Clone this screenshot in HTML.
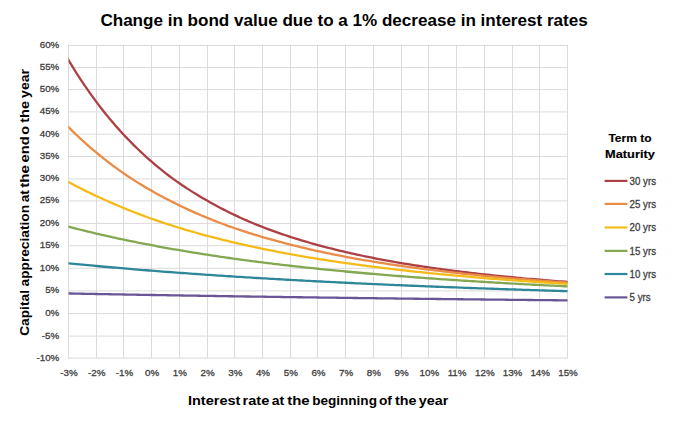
<!DOCTYPE html><html><head><meta charset="utf-8"><title>Change in bond value</title><style>html,body{margin:0;padding:0;background:#fff;}svg{display:block;}text{font-family:"Liberation Sans", Arial, sans-serif;}</style></head><body>
<svg width="690" height="427" viewBox="0 0 690 427">
<rect width="690" height="427" fill="#fff"/>
<path d="M68.0 45.40H568.0M68.0 67.50H568.0M68.0 89.60H568.0M68.0 111.90H568.0M68.0 134.20H568.0M68.0 156.50H568.0M68.0 178.90H568.0M68.0 200.90H568.0M68.0 223.40H568.0M68.0 245.70H568.0M68.0 268.30H568.0M68.0 290.90H568.0M68.0 313.60H568.0M68.0 336.10H568.0M68.0 358.10H568.0M68.5 44.9V358.6M96.5 44.9V358.6M123.5 44.9V358.6M151.5 44.9V358.6M179.5 44.9V358.6M207.5 44.9V358.6M234.5 44.9V358.6M262.5 44.9V358.6M290.5 44.9V358.6M317.5 44.9V358.6M345.5 44.9V358.6M373.5 44.9V358.6M401.5 44.9V358.6M428.5 44.9V358.6M456.5 44.9V358.6M484.5 44.9V358.6M512.5 44.9V358.6M539.5 44.9V358.6M567.5 44.9V358.6" stroke="#DBDBDB" stroke-width="1" fill="none"/>
<clipPath id="pa"><rect x="68.5" y="0" width="499" height="427"/></clipPath>
<path d="M65.73,55.41 L68.50,60.11 L71.27,64.70 L74.04,69.18 L76.82,73.56 L79.59,77.84 L82.36,82.02 L85.13,86.11 L87.90,90.11 L90.68,94.04 L93.45,97.89 L96.22,101.66 L98.99,105.33 L101.76,108.93 L104.54,112.44 L107.31,115.88 L110.08,119.24 L112.85,122.53 L115.62,125.74 L118.40,128.88 L121.17,131.96 L123.94,134.97 L126.71,137.91 L129.48,140.78 L132.26,143.60 L135.03,146.35 L137.80,149.05 L140.57,151.69 L143.34,154.27 L146.12,156.79 L148.89,159.28 L151.66,161.71 L154.43,164.08 L157.20,166.41 L159.98,168.69 L162.75,170.93 L165.52,173.11 L168.29,175.25 L171.06,177.35 L173.84,179.39 L176.61,181.37 L179.38,183.30 L182.15,185.19 L184.92,187.05 L187.70,188.87 L190.47,190.65 L193.24,192.39 L196.01,194.10 L198.78,195.78 L201.56,197.42 L204.33,199.03 L207.10,200.61 L209.87,202.19 L212.64,203.74 L215.42,205.26 L218.19,206.75 L220.96,208.21 L223.73,209.64 L226.50,211.05 L229.28,212.42 L232.05,213.77 L234.82,215.10 L237.59,216.40 L240.36,217.68 L243.14,218.93 L245.91,220.15 L248.68,221.36 L251.45,222.54 L254.22,223.70 L257.00,224.83 L259.77,225.93 L262.54,227.02 L265.31,228.09 L268.08,229.13 L270.86,230.16 L273.63,231.17 L276.40,232.16 L279.17,233.13 L281.94,234.09 L284.72,235.03 L287.49,235.95 L290.26,236.85 L293.03,237.74 L295.80,238.61 L298.58,239.47 L301.35,240.31 L304.12,241.14 L306.89,241.96 L309.66,242.75 L312.44,243.54 L315.21,244.31 L317.98,245.07 L320.75,245.82 L323.52,246.56 L326.30,247.29 L329.07,248.01 L331.84,248.71 L334.61,249.41 L337.38,250.09 L340.16,250.76 L342.93,251.42 L345.70,252.07 L348.47,252.71 L351.24,253.34 L354.02,253.95 L356.79,254.56 L359.56,255.16 L362.33,255.75 L365.10,256.32 L367.88,256.89 L370.65,257.45 L373.42,258.00 L376.19,258.55 L378.96,259.08 L381.74,259.61 L384.51,260.12 L387.28,260.63 L390.05,261.13 L392.82,261.63 L395.60,262.11 L398.37,262.59 L401.14,263.06 L403.91,263.53 L406.68,263.99 L409.46,264.44 L412.23,264.88 L415.00,265.32 L417.77,265.75 L420.54,266.17 L423.32,266.59 L426.09,267.00 L428.86,267.40 L431.63,267.80 L434.40,268.20 L437.18,268.58 L439.95,268.97 L442.72,269.34 L445.49,269.72 L448.26,270.08 L451.04,270.44 L453.81,270.80 L456.58,271.15 L459.35,271.50 L462.12,271.84 L464.90,272.17 L467.67,272.50 L470.44,272.83 L473.21,273.15 L475.98,273.47 L478.76,273.79 L481.53,274.10 L484.30,274.40 L487.07,274.70 L489.84,275.00 L492.62,275.29 L495.39,275.58 L498.16,275.87 L500.93,276.15 L503.70,276.43 L506.48,276.70 L509.25,276.97 L512.02,277.24 L514.79,277.51 L517.56,277.77 L520.34,278.02 L523.11,278.28 L525.88,278.53 L528.65,278.78 L531.42,279.02 L534.20,279.26 L536.97,279.50 L539.74,279.74 L542.51,279.97 L545.28,280.20 L548.06,280.42 L550.83,280.65 L553.60,280.87 L556.37,281.09 L559.14,281.30 L561.92,281.52 L564.69,281.73 L567.46,281.94 L570.23,282.14" stroke="#AD4045" stroke-width="2.3" fill="none" stroke-linejoin="round" clip-path="url(#pa)"/>
<path d="M65.73,124.28 L68.50,127.09 L71.27,129.85 L74.04,132.56 L76.82,135.22 L79.59,137.82 L82.36,140.38 L85.13,142.89 L87.90,145.35 L90.68,147.76 L93.45,150.13 L96.22,152.46 L98.99,154.74 L101.76,156.98 L104.54,159.18 L107.31,161.35 L110.08,163.48 L112.85,165.56 L115.62,167.61 L118.40,169.62 L121.17,171.60 L123.94,173.53 L126.71,175.44 L129.48,177.30 L132.26,179.14 L135.03,180.90 L137.80,182.64 L140.57,184.35 L143.34,186.02 L146.12,187.67 L148.89,189.29 L151.66,190.87 L154.43,192.43 L157.20,193.97 L159.98,195.47 L162.75,196.95 L165.52,198.40 L168.29,199.83 L171.06,201.24 L173.84,202.65 L176.61,204.04 L179.38,205.40 L182.15,206.74 L184.92,208.05 L187.70,209.35 L190.47,210.62 L193.24,211.87 L196.01,213.10 L198.78,214.30 L201.56,215.49 L204.33,216.66 L207.10,217.80 L209.87,218.93 L212.64,220.04 L215.42,221.13 L218.19,222.21 L220.96,223.26 L223.73,224.29 L226.50,225.31 L229.28,226.30 L232.05,227.28 L234.82,228.24 L237.59,229.19 L240.36,230.12 L243.14,231.04 L245.91,231.94 L248.68,232.83 L251.45,233.71 L254.22,234.57 L257.00,235.41 L259.77,236.25 L262.54,237.07 L265.31,237.87 L268.08,238.67 L270.86,239.45 L273.63,240.22 L276.40,240.98 L279.17,241.73 L281.94,242.46 L284.72,243.18 L287.49,243.90 L290.26,244.60 L293.03,245.29 L295.80,245.97 L298.58,246.65 L301.35,247.32 L304.12,247.98 L306.89,248.63 L309.66,249.27 L312.44,249.90 L315.21,250.52 L317.98,251.13 L320.75,251.73 L323.52,252.33 L326.30,252.91 L329.07,253.49 L331.84,254.05 L334.61,254.61 L337.38,255.17 L340.16,255.71 L342.93,256.24 L345.70,256.77 L348.47,257.29 L351.24,257.81 L354.02,258.31 L356.79,258.81 L359.56,259.30 L362.33,259.79 L365.10,260.26 L367.88,260.74 L370.65,261.20 L373.42,261.66 L376.19,262.11 L378.96,262.56 L381.74,263.00 L384.51,263.43 L387.28,263.86 L390.05,264.28 L392.82,264.69 L395.60,265.11 L398.37,265.51 L401.14,265.91 L403.91,266.30 L406.68,266.69 L409.46,267.08 L412.23,267.46 L415.00,267.83 L417.77,268.20 L420.54,268.56 L423.32,268.92 L426.09,269.28 L428.86,269.63 L431.63,269.97 L434.40,270.31 L437.18,270.65 L439.95,270.98 L442.72,271.31 L445.49,271.63 L448.26,271.95 L451.04,272.27 L453.81,272.58 L456.58,272.89 L459.35,273.19 L462.12,273.49 L464.90,273.79 L467.67,274.08 L470.44,274.37 L473.21,274.66 L475.98,274.94 L478.76,275.22 L481.53,275.49 L484.30,275.77 L487.07,276.04 L489.84,276.30 L492.62,276.56 L495.39,276.82 L498.16,277.08 L500.93,277.33 L503.70,277.58 L506.48,277.83 L509.25,278.07 L512.02,278.31 L514.79,278.55 L517.56,278.79 L520.34,279.02 L523.11,279.25 L525.88,279.48 L528.65,279.71 L531.42,279.93 L534.20,280.15 L536.97,280.37 L539.74,280.58 L542.51,280.79 L545.28,281.00 L548.06,281.21 L550.83,281.42 L553.60,281.62 L556.37,281.82 L559.14,282.02 L561.92,282.22 L564.69,282.41 L567.46,282.61 L570.23,282.80" stroke="#EA8C46" stroke-width="2.3" fill="none" stroke-linejoin="round" clip-path="url(#pa)"/>
<path d="M65.73,180.47 L68.50,181.99 L71.27,183.48 L74.04,184.95 L76.82,186.40 L79.59,187.83 L82.36,189.23 L85.13,190.62 L87.90,191.98 L90.68,193.32 L93.45,194.65 L96.22,195.95 L98.99,197.23 L101.76,198.50 L104.54,199.74 L107.31,200.97 L110.08,202.20 L112.85,203.42 L115.62,204.62 L118.40,205.80 L121.17,206.97 L123.94,208.12 L126.71,209.25 L129.48,210.36 L132.26,211.46 L135.03,212.54 L137.80,213.61 L140.57,214.66 L143.34,215.70 L146.12,216.72 L148.89,217.72 L151.66,218.72 L154.43,219.70 L157.20,220.66 L159.98,221.61 L162.75,222.55 L165.52,223.47 L168.29,224.37 L171.06,225.26 L173.84,226.14 L176.61,227.01 L179.38,227.86 L182.15,228.70 L184.92,229.53 L187.70,230.35 L190.47,231.16 L193.24,231.95 L196.01,232.74 L198.78,233.51 L201.56,234.28 L204.33,235.03 L207.10,235.77 L209.87,236.50 L212.64,237.23 L215.42,237.94 L218.19,238.65 L220.96,239.34 L223.73,240.02 L226.50,240.70 L229.28,241.37 L232.05,242.02 L234.82,242.67 L237.59,243.31 L240.36,243.95 L243.14,244.57 L245.91,245.19 L248.68,245.80 L251.45,246.40 L254.22,247.00 L257.00,247.60 L259.77,248.18 L262.54,248.76 L265.31,249.33 L268.08,249.89 L270.86,250.44 L273.63,250.99 L276.40,251.53 L279.17,252.07 L281.94,252.59 L284.72,253.11 L287.49,253.63 L290.26,254.13 L293.03,254.64 L295.80,255.13 L298.58,255.62 L301.35,256.10 L304.12,256.58 L306.89,257.05 L309.66,257.51 L312.44,257.97 L315.21,258.43 L317.98,258.87 L320.75,259.32 L323.52,259.75 L326.30,260.19 L329.07,260.61 L331.84,261.03 L334.61,261.45 L337.38,261.86 L340.16,262.27 L342.93,262.67 L345.70,263.07 L348.47,263.46 L351.24,263.84 L354.02,264.23 L356.79,264.61 L359.56,264.98 L362.33,265.35 L365.10,265.71 L367.88,266.07 L370.65,266.43 L373.42,266.78 L376.19,267.13 L378.96,267.48 L381.74,267.82 L384.51,268.15 L387.28,268.48 L390.05,268.81 L392.82,269.14 L395.60,269.46 L398.37,269.78 L401.14,270.09 L403.91,270.40 L406.68,270.71 L409.46,271.01 L412.23,271.31 L415.00,271.61 L417.77,271.90 L420.54,272.19 L423.32,272.48 L426.09,272.76 L428.86,273.05 L431.63,273.32 L434.40,273.60 L437.18,273.87 L439.95,274.14 L442.72,274.40 L445.49,274.67 L448.26,274.93 L451.04,275.18 L453.81,275.44 L456.58,275.69 L459.35,275.94 L462.12,276.19 L464.90,276.43 L467.67,276.67 L470.44,276.91 L473.21,277.15 L475.98,277.38 L478.76,277.61 L481.53,277.84 L484.30,278.07 L487.07,278.29 L489.84,278.51 L492.62,278.73 L495.39,278.95 L498.16,279.16 L500.93,279.38 L503.70,279.59 L506.48,279.80 L509.25,280.00 L512.02,280.21 L514.79,280.41 L517.56,280.61 L520.34,280.81 L523.11,281.00 L525.88,281.20 L528.65,281.39 L531.42,281.58 L534.20,281.77 L536.97,281.96 L539.74,282.14 L542.51,282.32 L545.28,282.50 L548.06,282.68 L550.83,282.86 L553.60,283.04 L556.37,283.21 L559.14,283.38 L561.92,283.56 L564.69,283.72 L567.46,283.89 L570.23,284.06" stroke="#F4BB18" stroke-width="2.3" fill="none" stroke-linejoin="round" clip-path="url(#pa)"/>
<path d="M65.73,225.91 L68.50,226.64 L71.27,227.37 L74.04,228.09 L76.82,228.80 L79.59,229.50 L82.36,230.19 L85.13,230.88 L87.90,231.55 L90.68,232.22 L93.45,232.89 L96.22,233.54 L98.99,234.19 L101.76,234.83 L104.54,235.46 L107.31,236.09 L110.08,236.71 L112.85,237.32 L115.62,237.93 L118.40,238.53 L121.17,239.12 L123.94,239.70 L126.71,240.28 L129.48,240.86 L132.26,241.42 L135.03,241.98 L137.80,242.54 L140.57,243.08 L143.34,243.63 L146.12,244.16 L148.89,244.69 L151.66,245.22 L154.43,245.74 L157.20,246.26 L159.98,246.77 L162.75,247.28 L165.52,247.78 L168.29,248.28 L171.06,248.77 L173.84,249.26 L176.61,249.74 L179.38,250.22 L182.15,250.69 L184.92,251.16 L187.70,251.62 L190.47,252.08 L193.24,252.53 L196.01,252.98 L198.78,253.42 L201.56,253.86 L204.33,254.29 L207.10,254.72 L209.87,255.15 L212.64,255.57 L215.42,255.98 L218.19,256.40 L220.96,256.80 L223.73,257.21 L226.50,257.61 L229.28,258.00 L232.05,258.39 L234.82,258.78 L237.59,259.16 L240.36,259.54 L243.14,259.92 L245.91,260.29 L248.68,260.66 L251.45,261.02 L254.22,261.38 L257.00,261.74 L259.77,262.09 L262.54,262.44 L265.31,262.79 L268.08,263.13 L270.86,263.47 L273.63,263.81 L276.40,264.14 L279.17,264.47 L281.94,264.79 L284.72,265.12 L287.49,265.44 L290.26,265.75 L293.03,266.07 L295.80,266.38 L298.58,266.69 L301.35,266.99 L304.12,267.29 L306.89,267.59 L309.66,267.89 L312.44,268.18 L315.21,268.47 L317.98,268.76 L320.75,269.04 L323.52,269.32 L326.30,269.60 L329.07,269.88 L331.84,270.15 L334.61,270.43 L337.38,270.70 L340.16,270.96 L342.93,271.23 L345.70,271.49 L348.47,271.75 L351.24,272.00 L354.02,272.26 L356.79,272.51 L359.56,272.76 L362.33,273.00 L365.10,273.25 L367.88,273.49 L370.65,273.73 L373.42,273.97 L376.19,274.21 L378.96,274.44 L381.74,274.67 L384.51,274.90 L387.28,275.13 L390.05,275.35 L392.82,275.58 L395.60,275.80 L398.37,276.02 L401.14,276.24 L403.91,276.45 L406.68,276.67 L409.46,276.88 L412.23,277.09 L415.00,277.29 L417.77,277.50 L420.54,277.70 L423.32,277.91 L426.09,278.11 L428.86,278.31 L431.63,278.50 L434.40,278.70 L437.18,278.89 L439.95,279.08 L442.72,279.28 L445.49,279.46 L448.26,279.65 L451.04,279.84 L453.81,280.02 L456.58,280.20 L459.35,280.38 L462.12,280.56 L464.90,280.74 L467.67,280.92 L470.44,281.09 L473.21,281.26 L475.98,281.44 L478.76,281.61 L481.53,281.77 L484.30,281.94 L487.07,282.11 L489.84,282.27 L492.62,282.44 L495.39,282.60 L498.16,282.76 L500.93,282.92 L503.70,283.07 L506.48,283.23 L509.25,283.39 L512.02,283.54 L514.79,283.69 L517.56,283.84 L520.34,284.00 L523.11,284.14 L525.88,284.29 L528.65,284.44 L531.42,284.58 L534.20,284.73 L536.97,284.87 L539.74,285.01 L542.51,285.15 L545.28,285.29 L548.06,285.43 L550.83,285.57 L553.60,285.71 L556.37,285.84 L559.14,285.97 L561.92,286.11 L564.69,286.24 L567.46,286.37 L570.23,286.50" stroke="#84A751" stroke-width="2.3" fill="none" stroke-linejoin="round" clip-path="url(#pa)"/>
<path d="M65.73,263.05 L68.50,263.33 L71.27,263.61 L74.04,263.88 L76.82,264.15 L79.59,264.42 L82.36,264.68 L85.13,264.95 L87.90,265.21 L90.68,265.47 L93.45,265.73 L96.22,265.98 L98.99,266.24 L101.76,266.49 L104.54,266.74 L107.31,266.99 L110.08,267.23 L112.85,267.48 L115.62,267.72 L118.40,267.96 L121.17,268.20 L123.94,268.43 L126.71,268.67 L129.48,268.90 L132.26,269.14 L135.03,269.37 L137.80,269.59 L140.57,269.82 L143.34,270.04 L146.12,270.27 L148.89,270.49 L151.66,270.71 L154.43,270.93 L157.20,271.14 L159.98,271.36 L162.75,271.57 L165.52,271.78 L168.29,271.99 L171.06,272.20 L173.84,272.41 L176.61,272.62 L179.38,272.82 L182.15,273.02 L184.92,273.22 L187.70,273.42 L190.47,273.62 L193.24,273.82 L196.01,274.01 L198.78,274.21 L201.56,274.40 L204.33,274.59 L207.10,274.78 L209.87,274.97 L212.64,275.16 L215.42,275.34 L218.19,275.53 L220.96,275.71 L223.73,275.89 L226.50,276.07 L229.28,276.25 L232.05,276.43 L234.82,276.61 L237.59,276.78 L240.36,276.96 L243.14,277.13 L245.91,277.30 L248.68,277.47 L251.45,277.64 L254.22,277.81 L257.00,277.98 L259.77,278.14 L262.54,278.31 L265.31,278.47 L268.08,278.63 L270.86,278.79 L273.63,278.95 L276.40,279.11 L279.17,279.27 L281.94,279.43 L284.72,279.58 L287.49,279.74 L290.26,279.89 L293.03,280.04 L295.80,280.20 L298.58,280.35 L301.35,280.50 L304.12,280.65 L306.89,280.79 L309.66,280.94 L312.44,281.08 L315.21,281.23 L317.98,281.37 L320.75,281.52 L323.52,281.66 L326.30,281.80 L329.07,281.94 L331.84,282.08 L334.61,282.21 L337.38,282.35 L340.16,282.49 L342.93,282.62 L345.70,282.76 L348.47,282.89 L351.24,283.02 L354.02,283.15 L356.79,283.28 L359.56,283.41 L362.33,283.54 L365.10,283.67 L367.88,283.80 L370.65,283.93 L373.42,284.05 L376.19,284.18 L378.96,284.30 L381.74,284.42 L384.51,284.55 L387.28,284.67 L390.05,284.79 L392.82,284.91 L395.60,285.03 L398.37,285.15 L401.14,285.26 L403.91,285.38 L406.68,285.50 L409.46,285.61 L412.23,285.73 L415.00,285.84 L417.77,285.96 L420.54,286.07 L423.32,286.18 L426.09,286.29 L428.86,286.40 L431.63,286.51 L434.40,286.62 L437.18,286.73 L439.95,286.84 L442.72,286.94 L445.49,287.05 L448.26,287.16 L451.04,287.26 L453.81,287.37 L456.58,287.47 L459.35,287.57 L462.12,287.67 L464.90,287.78 L467.67,287.88 L470.44,287.98 L473.21,288.08 L475.98,288.18 L478.76,288.28 L481.53,288.37 L484.30,288.47 L487.07,288.57 L489.84,288.67 L492.62,288.76 L495.39,288.86 L498.16,288.95 L500.93,289.05 L503.70,289.14 L506.48,289.23 L509.25,289.32 L512.02,289.42 L514.79,289.51 L517.56,289.60 L520.34,289.69 L523.11,289.78 L525.88,289.87 L528.65,289.96 L531.42,290.04 L534.20,290.13 L536.97,290.22 L539.74,290.30 L542.51,290.39 L545.28,290.48 L548.06,290.56 L550.83,290.65 L553.60,290.73 L556.37,290.81 L559.14,290.90 L561.92,290.98 L564.69,291.06 L567.46,291.14 L570.23,291.22" stroke="#2E8699" stroke-width="2.3" fill="none" stroke-linejoin="round" clip-path="url(#pa)"/>
<path d="M65.73,293.41 L68.50,293.47 L71.27,293.52 L74.04,293.57 L76.82,293.63 L79.59,293.68 L82.36,293.73 L85.13,293.78 L87.90,293.84 L90.68,293.89 L93.45,293.94 L96.22,293.99 L98.99,294.04 L101.76,294.09 L104.54,294.14 L107.31,294.20 L110.08,294.25 L112.85,294.30 L115.62,294.35 L118.40,294.40 L121.17,294.45 L123.94,294.49 L126.71,294.54 L129.48,294.59 L132.26,294.64 L135.03,294.69 L137.80,294.74 L140.57,294.79 L143.34,294.83 L146.12,294.88 L148.89,294.93 L151.66,294.98 L154.43,295.02 L157.20,295.07 L159.98,295.12 L162.75,295.16 L165.52,295.21 L168.29,295.26 L171.06,295.30 L173.84,295.35 L176.61,295.39 L179.38,295.44 L182.15,295.49 L184.92,295.53 L187.70,295.58 L190.47,295.62 L193.24,295.66 L196.01,295.71 L198.78,295.75 L201.56,295.80 L204.33,295.84 L207.10,295.89 L209.87,295.93 L212.64,295.97 L215.42,296.02 L218.19,296.06 L220.96,296.10 L223.73,296.14 L226.50,296.19 L229.28,296.23 L232.05,296.27 L234.82,296.31 L237.59,296.35 L240.36,296.40 L243.14,296.44 L245.91,296.48 L248.68,296.52 L251.45,296.56 L254.22,296.60 L257.00,296.64 L259.77,296.68 L262.54,296.72 L265.31,296.76 L268.08,296.80 L270.86,296.84 L273.63,296.88 L276.40,296.92 L279.17,296.96 L281.94,297.00 L284.72,297.04 L287.49,297.08 L290.26,297.12 L293.03,297.16 L295.80,297.20 L298.58,297.24 L301.35,297.27 L304.12,297.31 L306.89,297.35 L309.66,297.39 L312.44,297.43 L315.21,297.46 L317.98,297.50 L320.75,297.54 L323.52,297.58 L326.30,297.61 L329.07,297.65 L331.84,297.69 L334.61,297.72 L337.38,297.76 L340.16,297.80 L342.93,297.83 L345.70,297.87 L348.47,297.90 L351.24,297.94 L354.02,297.98 L356.79,298.01 L359.56,298.05 L362.33,298.08 L365.10,298.12 L367.88,298.15 L370.65,298.19 L373.42,298.22 L376.19,298.26 L378.96,298.29 L381.74,298.33 L384.51,298.36 L387.28,298.39 L390.05,298.43 L392.82,298.46 L395.60,298.50 L398.37,298.53 L401.14,298.56 L403.91,298.60 L406.68,298.63 L409.46,298.66 L412.23,298.70 L415.00,298.73 L417.77,298.76 L420.54,298.79 L423.32,298.83 L426.09,298.86 L428.86,298.89 L431.63,298.92 L434.40,298.96 L437.18,298.99 L439.95,299.02 L442.72,299.05 L445.49,299.08 L448.26,299.11 L451.04,299.15 L453.81,299.18 L456.58,299.21 L459.35,299.24 L462.12,299.27 L464.90,299.30 L467.67,299.33 L470.44,299.36 L473.21,299.39 L475.98,299.42 L478.76,299.45 L481.53,299.48 L484.30,299.51 L487.07,299.54 L489.84,299.57 L492.62,299.60 L495.39,299.63 L498.16,299.66 L500.93,299.69 L503.70,299.72 L506.48,299.75 L509.25,299.78 L512.02,299.81 L514.79,299.84 L517.56,299.87 L520.34,299.90 L523.11,299.93 L525.88,299.95 L528.65,299.98 L531.42,300.01 L534.20,300.04 L536.97,300.07 L539.74,300.10 L542.51,300.12 L545.28,300.15 L548.06,300.18 L550.83,300.21 L553.60,300.23 L556.37,300.26 L559.14,300.29 L561.92,300.32 L564.69,300.34 L567.46,300.37 L570.23,300.40" stroke="#6A5696" stroke-width="2.3" fill="none" stroke-linejoin="round" clip-path="url(#pa)"/>
<text x="59.3" y="47.8" font-size="9.8" fill="#404040" stroke="#404040" stroke-width="0.3" text-anchor="end">60%</text>
<text x="59.3" y="69.9" font-size="9.8" fill="#404040" stroke="#404040" stroke-width="0.3" text-anchor="end">55%</text>
<text x="59.3" y="92.0" font-size="9.8" fill="#404040" stroke="#404040" stroke-width="0.3" text-anchor="end">50%</text>
<text x="59.3" y="114.3" font-size="9.8" fill="#404040" stroke="#404040" stroke-width="0.3" text-anchor="end">45%</text>
<text x="59.3" y="136.6" font-size="9.8" fill="#404040" stroke="#404040" stroke-width="0.3" text-anchor="end">40%</text>
<text x="59.3" y="158.9" font-size="9.8" fill="#404040" stroke="#404040" stroke-width="0.3" text-anchor="end">35%</text>
<text x="59.3" y="181.3" font-size="9.8" fill="#404040" stroke="#404040" stroke-width="0.3" text-anchor="end">30%</text>
<text x="59.3" y="203.3" font-size="9.8" fill="#404040" stroke="#404040" stroke-width="0.3" text-anchor="end">25%</text>
<text x="59.3" y="225.8" font-size="9.8" fill="#404040" stroke="#404040" stroke-width="0.3" text-anchor="end">20%</text>
<text x="59.3" y="248.1" font-size="9.8" fill="#404040" stroke="#404040" stroke-width="0.3" text-anchor="end">15%</text>
<text x="59.3" y="270.7" font-size="9.8" fill="#404040" stroke="#404040" stroke-width="0.3" text-anchor="end">10%</text>
<text x="59.3" y="293.3" font-size="9.8" fill="#404040" stroke="#404040" stroke-width="0.3" text-anchor="end">5%</text>
<text x="59.3" y="316.0" font-size="9.8" fill="#404040" stroke="#404040" stroke-width="0.3" text-anchor="end">0%</text>
<text x="59.3" y="338.5" font-size="9.8" fill="#404040" stroke="#404040" stroke-width="0.3" text-anchor="end">-5%</text>
<text x="59.3" y="360.5" font-size="9.8" fill="#404040" stroke="#404040" stroke-width="0.3" text-anchor="end">-10%</text>
<text x="69.0" y="376.3" font-size="9.8" fill="#404040" stroke="#404040" stroke-width="0.3" text-anchor="middle">-3%</text>
<text x="96.7" y="376.3" font-size="9.8" fill="#404040" stroke="#404040" stroke-width="0.3" text-anchor="middle">-2%</text>
<text x="124.4" y="376.3" font-size="9.8" fill="#404040" stroke="#404040" stroke-width="0.3" text-anchor="middle">-1%</text>
<text x="152.2" y="376.3" font-size="9.8" fill="#404040" stroke="#404040" stroke-width="0.3" text-anchor="middle">0%</text>
<text x="179.9" y="376.3" font-size="9.8" fill="#404040" stroke="#404040" stroke-width="0.3" text-anchor="middle">1%</text>
<text x="207.6" y="376.3" font-size="9.8" fill="#404040" stroke="#404040" stroke-width="0.3" text-anchor="middle">2%</text>
<text x="235.3" y="376.3" font-size="9.8" fill="#404040" stroke="#404040" stroke-width="0.3" text-anchor="middle">3%</text>
<text x="263.0" y="376.3" font-size="9.8" fill="#404040" stroke="#404040" stroke-width="0.3" text-anchor="middle">4%</text>
<text x="290.8" y="376.3" font-size="9.8" fill="#404040" stroke="#404040" stroke-width="0.3" text-anchor="middle">5%</text>
<text x="318.5" y="376.3" font-size="9.8" fill="#404040" stroke="#404040" stroke-width="0.3" text-anchor="middle">6%</text>
<text x="346.2" y="376.3" font-size="9.8" fill="#404040" stroke="#404040" stroke-width="0.3" text-anchor="middle">7%</text>
<text x="373.9" y="376.3" font-size="9.8" fill="#404040" stroke="#404040" stroke-width="0.3" text-anchor="middle">8%</text>
<text x="401.6" y="376.3" font-size="9.8" fill="#404040" stroke="#404040" stroke-width="0.3" text-anchor="middle">9%</text>
<text x="429.4" y="376.3" font-size="9.8" fill="#404040" stroke="#404040" stroke-width="0.3" text-anchor="middle">10%</text>
<text x="457.1" y="376.3" font-size="9.8" fill="#404040" stroke="#404040" stroke-width="0.3" text-anchor="middle">11%</text>
<text x="484.8" y="376.3" font-size="9.8" fill="#404040" stroke="#404040" stroke-width="0.3" text-anchor="middle">12%</text>
<text x="512.5" y="376.3" font-size="9.8" fill="#404040" stroke="#404040" stroke-width="0.3" text-anchor="middle">13%</text>
<text x="540.2" y="376.3" font-size="9.8" fill="#404040" stroke="#404040" stroke-width="0.3" text-anchor="middle">14%</text>
<text x="568.0" y="376.3" font-size="9.8" fill="#404040" stroke="#404040" stroke-width="0.3" text-anchor="middle">15%</text>
<text x="100.4" y="25.6" font-size="17.4" font-weight="bold" fill="#000" textLength="487.3" lengthAdjust="spacingAndGlyphs">Change in bond value due to a 1% decrease in interest rates</text>
<text y="404.7" font-size="13.6" font-weight="bold" fill="#000"><tspan x="187.96" textLength="52.49" lengthAdjust="spacingAndGlyphs">Interest</tspan> <tspan x="242.56" textLength="26.81" lengthAdjust="spacingAndGlyphs">rate</tspan> <tspan x="271.81" textLength="12.51" lengthAdjust="spacingAndGlyphs">at</tspan> <tspan x="287.26" textLength="22.40" lengthAdjust="spacingAndGlyphs">the</tspan> <tspan x="312.13" textLength="64.81" lengthAdjust="spacingAndGlyphs">beginning</tspan> <tspan x="378.99" textLength="12.97" lengthAdjust="spacingAndGlyphs">of</tspan> <tspan x="395.07" textLength="21.47" lengthAdjust="spacingAndGlyphs">the</tspan> <tspan x="418.67" textLength="29.58" lengthAdjust="spacingAndGlyphs">year</tspan></text>
<text transform="rotate(-90)" y="29.30" font-size="13.6" font-weight="bold" fill="#000"><tspan x="-335.83" textLength="45.79" lengthAdjust="spacingAndGlyphs">Capital</tspan> <tspan x="-286.48" textLength="81.51" lengthAdjust="spacingAndGlyphs">appreciation</tspan> <tspan x="-202.28" textLength="12.20" lengthAdjust="spacingAndGlyphs">at</tspan> <tspan x="-187.74" textLength="22.71" lengthAdjust="spacingAndGlyphs">the</tspan> <tspan x="-162.54" textLength="26.24" lengthAdjust="spacingAndGlyphs">end</tspan> <tspan x="-134.73" textLength="8.83" lengthAdjust="spacingAndGlyphs">o</tspan> <tspan x="-122.73" textLength="21.68" lengthAdjust="spacingAndGlyphs">the</tspan> <tspan x="-97.93" textLength="28.87" lengthAdjust="spacingAndGlyphs">year</tspan></text>
<text x="608.4" y="141.6" font-size="10.3" stroke="#000" stroke-width="0.15" font-weight="bold" fill="#000" textLength="43.1" lengthAdjust="spacingAndGlyphs">Term to</text>
<text x="605.1" y="158.0" font-size="10.3" stroke="#000" stroke-width="0.15" font-weight="bold" fill="#000" textLength="49.7" lengthAdjust="spacingAndGlyphs">Maturity</text>
<path d="M604.6 180.9H627.4" stroke="#AD4045" stroke-width="2.2"/>
<text x="629.6" y="184.7" font-size="10.1" fill="#404040" stroke="#404040" stroke-width="0.3" textLength="26.39" lengthAdjust="spacingAndGlyphs">30 yrs</text>
<path d="M604.6 203.9H627.4" stroke="#EA8C46" stroke-width="2.2"/>
<text x="629.6" y="207.7" font-size="10.1" fill="#404040" stroke="#404040" stroke-width="0.3" textLength="26.39" lengthAdjust="spacingAndGlyphs">25 yrs</text>
<path d="M604.6 227.5H627.4" stroke="#F4BB18" stroke-width="2.2"/>
<text x="629.6" y="231.3" font-size="10.1" fill="#404040" stroke="#404040" stroke-width="0.3" textLength="26.39" lengthAdjust="spacingAndGlyphs">20 yrs</text>
<path d="M604.6 250.9H627.4" stroke="#84A751" stroke-width="2.2"/>
<text x="629.6" y="254.7" font-size="10.1" fill="#404040" stroke="#404040" stroke-width="0.3" textLength="26.39" lengthAdjust="spacingAndGlyphs">15 yrs</text>
<path d="M604.6 274.0H627.4" stroke="#2E8699" stroke-width="2.2"/>
<text x="629.6" y="277.8" font-size="10.1" fill="#404040" stroke="#404040" stroke-width="0.3" textLength="26.39" lengthAdjust="spacingAndGlyphs">10 yrs</text>
<path d="M604.6 297.4H627.4" stroke="#6A5696" stroke-width="2.2"/>
<text x="629.6" y="301.2" font-size="10.1" fill="#404040" stroke="#404040" stroke-width="0.3" textLength="21.00" lengthAdjust="spacingAndGlyphs">5 yrs</text>
</svg></body></html>
